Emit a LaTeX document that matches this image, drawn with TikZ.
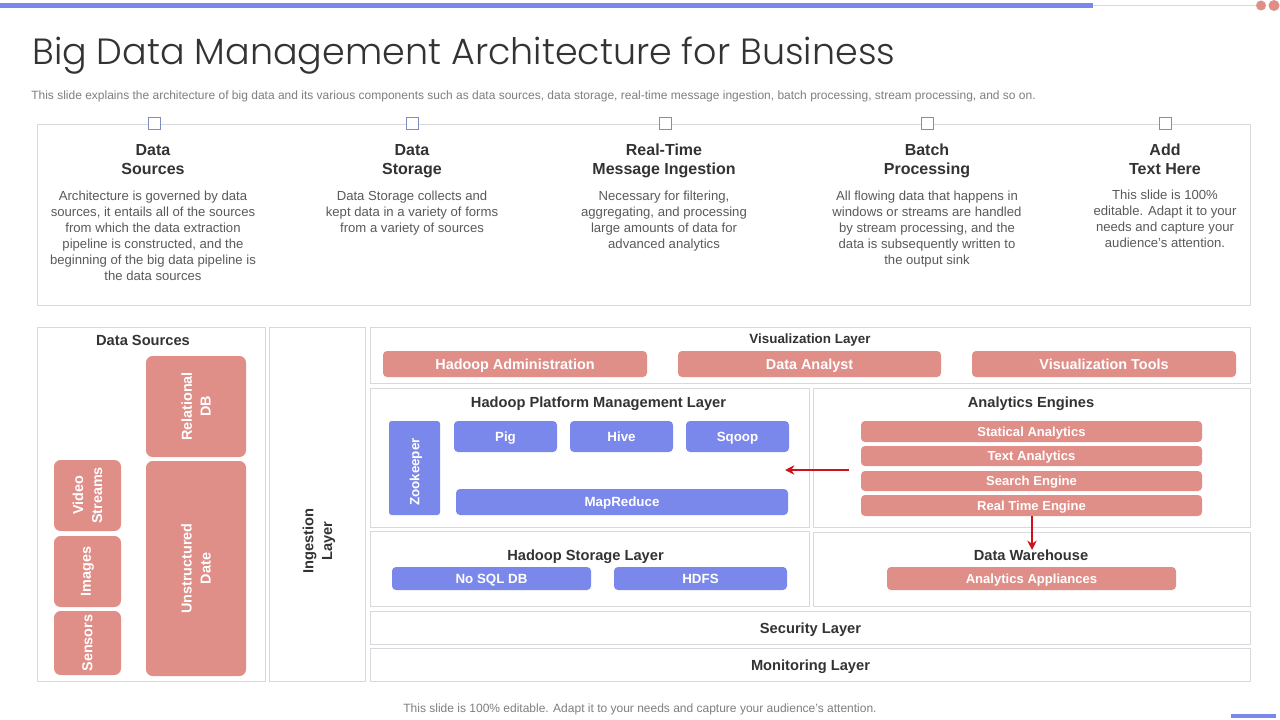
\documentclass[tikz,border=0pt]{standalone}
\usepackage{fontspec}
\setmainfont{Liberation Sans}
\newfontfamily\titlefont{Poppins Light}
\usetikzlibrary{arrows.meta}
\definecolor{bluefill}{HTML}{7B88EB}
\definecolor{pinkfill}{HTML}{E08E88}
\definecolor{framegray}{HTML}{D9D9DD}
\definecolor{headtext}{HTML}{333333}
\definecolor{bodytext}{HTML}{5A5A5A}
\definecolor{subtext}{HTML}{7F7F7F}
\definecolor{arrowred}{HTML}{D0101A}
\definecolor{squareline}{HTML}{7F8CC0}
\tikzset{
  x=0.75pt,y=-0.75pt,
  frame/.style={draw=framegray,line width=0.7pt,fill=white,inner sep=0pt},
  pill/.style={rounded corners=3pt,inner sep=0pt,text=white,align=center},
  bluepill/.style={pill,fill=bluefill,font=\fontsize{10}{13}\selectfont\bfseries,text height=7.2pt,text depth=0pt},
  bluerot/.style={bluepill},
  pinkpill/.style={pill,fill=pinkfill,font=\fontsize{9.8}{13}\selectfont\bfseries,text height=7pt,text depth=0pt},
  bigpill/.style={pill,fill=pinkfill,font=\fontsize{10.8}{14}\selectfont\bfseries,text height=7.7pt,text depth=0pt},
  rotpill/.style={pill,fill=pinkfill,rounded corners=5pt,font=\fontsize{10.8}{14.2}\selectfont\bfseries},
  heading/.style={text=headtext,font=\fontsize{11}{14}\selectfont\bfseries,align=center,inner sep=0pt},
  colhead/.style={text=headtext,font=\fontsize{12}{14.3}\selectfont\bfseries,align=center,inner sep=0pt},
  colbody/.style={text=bodytext,font=\fontsize{9.85}{12}\selectfont,align=center,inner sep=0pt},
  marker/.style={draw=squareline,fill=white,line width=0.7pt,minimum width=9.5pt,minimum height=9.7pt,inner sep=0pt},
  redarrow/.style={draw=arrowred,line width=2pt,-{Stealth[length=7pt,width=7pt]}},
}
% name, x0, y0, x1, y1, style, text
\newcommand{\flatbox}[7]{%
  \pgfmathsetmacro{\cenx}{(#2+#4)/2}\pgfmathsetmacro{\ceny}{(#3+#5)/2}%
  \pgfmathsetmacro{\boxw}{(#4-#2)*0.75}\pgfmathsetmacro{\boxh}{(#5-#3)*0.75}%
  \node[#6,minimum width=\boxw pt,minimum height=\boxh pt] (#1) at (\cenx,\ceny) {#7};}
\newcommand{\upbox}[7]{%
  \pgfmathsetmacro{\cenx}{(#2+#4)/2}\pgfmathsetmacro{\ceny}{(#3+#5)/2}%
  \pgfmathsetmacro{\boxw}{(#5-#3)*0.75}\pgfmathsetmacro{\boxh}{(#4-#2)*0.75}%
  \node[#6,rotate=90,minimum width=\boxw pt,minimum height=\boxh pt] (#1) at (\cenx,\ceny) {#7};}
\begin{document}
\begin{tikzpicture}
\useasboundingbox (0,0) rectangle (1280,720);
\fill[white] (0,0) rectangle (1280,720);
% top decoration
\draw[framegray,line width=0.7pt] (1093,5.5) -- (1258,5.5);
\fill[bluefill] (0,3) rectangle (1093,8);
\fill[pinkfill] (1261,5.5) circle[radius=5];
\fill[pinkfill] (1274,5.5) circle[radius=5.5];
% title
\node[anchor=west,inner sep=0pt,text=headtext,font=\titlefont\fontsize{27.35}{32}\selectfont] (title) at (32,55.5) {Big Data Management Architecture for Business};
\node[anchor=west,inner sep=0pt,text=subtext,font=\fontsize{9}{11}\selectfont] (subtitle) at (31,96) {This slide explains the architecture of big data and its various components such as data sources, data storage, real-time message ingestion, batch processing, stream processing, and so on.};
% upper panel
\flatbox{panel}{37}{124.5}{1250}{305}{frame}{}
\foreach \n/\x in {a/154.5,b/412.5,c/665.5,d/927.5,e/1165.5}{\node[marker] (sq\n) at (\x,123.5) {};}
\node[colhead] (h1) at (153,160) {Data\\Sources};
\node[colhead] (h2) at (412,161.5) {Data\\Storage};
\node[colhead] (h3) at (664,160.5) {Real-Time\\Message Ingestion};
\node[colhead] (h4) at (927,160.5) {Batch\\Processing};
\node[colhead] (h5) at (1165,159.5) {Add\\Text Here};
\node[colbody] (b1) at (153,236) {Architecture is governed  by data\\sources, it entails all of the sources\\from which the data extraction\\pipeline is constructed, and the\\beginning of the big data pipeline is\\the data sources};
\node[colbody] (b2) at (412,213.5) {Data Storage collects and\\kept data in a variety of forms\\from a variety of sources};
\node[colbody] (b3) at (664,221.5) {Necessary for filtering,\\aggregating, and processing\\large amounts of data for\\advanced analytics};
\node[colbody] (b4) at (927,229.5) {All flowing data that happens in\\windows or streams are handled\\by stream processing, and the\\data is subsequently written to\\the output sink};
\node[colbody] (b5) at (1165,219) {This slide is 100\%\\editable. Adapt it to your\\needs and capture your\\audience's attention.};
% layer frames
\flatbox{fsources}{37}{327.5}{265}{681.5}{frame}{}
\flatbox{fingest}{269.5}{327.5}{365.5}{681.5}{frame}{}
\flatbox{fviz}{370.5}{327.5}{1250.5}{383.5}{frame}{}
\flatbox{fplat}{370.5}{388.5}{809.5}{527.5}{frame}{}
\flatbox{fanal}{813.5}{388.5}{1250.5}{527.5}{frame}{}
\flatbox{fstore}{370.5}{531.5}{809.5}{606.5}{frame}{}
\flatbox{fware}{813.5}{532.5}{1250.5}{606.5}{frame}{}
\flatbox{fsec}{370.5}{611.5}{1250.5}{644.5}{frame,heading,text height=7.9pt,text depth=0pt}{Security Layer}
\flatbox{fmon}{370.5}{648.5}{1250.5}{681.5}{frame,heading,text height=7.9pt,text depth=0pt}{Monitoring Layer}
% headings
\node[heading] (tsources) at (143,340) {Data Sources};
\node[heading,rotate=90] (tingest) at (319,541) {Ingestion\\Layer};
\node[heading,font=\fontsize{10.05}{13}\selectfont\bfseries] (tviz) at (810,340) {Visualization Layer};
\node[heading] (tplat) at (598.5,403.5) {Hadoop Platform Management Layer};
\node[heading] (tanal) at (1031,403.5) {Analytics Engines};
\node[heading] (tstore) at (585.5,556.5) {Hadoop Storage Layer};
\node[heading] (tware) at (1031,555) {Data Warehouse};
% visualization
\flatbox{vadmin}{383}{351}{647}{377}{bigpill}{Hadoop Administration}
\flatbox{vanalyst}{678}{351}{941}{377}{bigpill}{Data Analyst}
\flatbox{vtools}{972}{351}{1236}{377}{bigpill}{Visualization Tools}
% sources
\upbox{relational}{146}{356}{246}{457}{rotpill}{Relational\\DB}
\upbox{unstruct}{146}{461}{246}{676}{rotpill}{Unstructured\\Date}
\upbox{video}{54}{460}{121}{531}{rotpill}{Video\\Streams}
\upbox{images}{54}{536}{121}{607}{rotpill}{Images}
\upbox{sensors}{54}{611}{121}{675}{rotpill}{Sensors}
% platform
\upbox{zoo}{389}{421}{440}{515}{bluerot,rounded corners=2pt}{Zookeeper\hspace*{6pt}}
\flatbox{pig}{454}{421}{557}{452}{bluepill}{Pig}
\flatbox{hive}{570}{421}{673}{452}{bluepill}{Hive}
\flatbox{sqoop}{686}{421}{789}{452}{bluepill}{Sqoop}
\flatbox{mapred}{456}{489}{788}{515}{bluepill}{MapReduce}
\flatbox{nosql}{392}{567}{591}{590}{bluepill}{No SQL DB}
\flatbox{hdfs}{614}{567}{787}{590}{bluepill}{HDFS}
% analytics
\flatbox{stat}{861}{421}{1202}{442}{pinkpill}{Statical Analytics}
\flatbox{textan}{861}{446}{1202}{466}{pinkpill}{Text Analytics}
\flatbox{search}{861}{471}{1202}{491}{pinkpill}{Search Engine}
\flatbox{realt}{861}{495}{1202}{516}{pinkpill}{Real Time Engine}
\flatbox{appl}{887}{567}{1176}{590}{pinkpill}{Analytics Appliances}
% arrows
\coordinate (aw) at (849,470);
\coordinate (ae) at (785,470);
\coordinate (ad) at (1032,550);
\draw[redarrow] (aw) -- (ae);
\draw[redarrow] (realt.south -| ad) -- (ad);
% footer
\node[inner sep=0pt,text=subtext,font=\fontsize{9}{11}\selectfont] (foot) at (640,709) {This slide is 100\% editable. Adapt it to your needs and capture your audience's attention.};
\fill[bluefill] (1231,714) rectangle (1276,718);
\end{tikzpicture}
\end{document}
